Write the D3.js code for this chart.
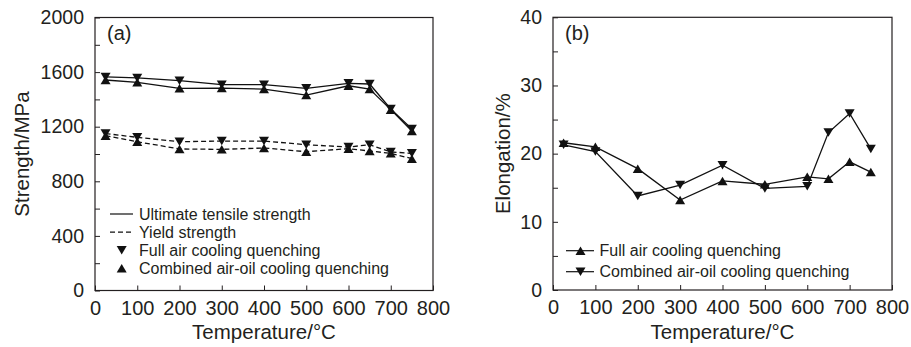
<!DOCTYPE html>
<html><head><meta charset="utf-8">
<script src="https://cdn.jsdelivr.net/npm/d3@7"></script>
<style>
html,body{margin:0;padding:0;background:#fff;}
svg text{font-family:"Liberation Sans",Arial,Helvetica,sans-serif;fill:#231f20;}
</style></head><body>
<svg id="chart" width="911" height="347"></svg>
<script>
const temps = [25, 100, 200, 300, 400, 500, 600, 650, 700, 750];
const utsFullAir = [1565, 1557, 1537, 1508, 1508, 1481, 1518, 1513, 1330, 1183];
const utsCombined = [1542, 1525, 1481, 1483, 1476, 1432, 1500, 1476, 1325, 1168];
const ysFullAir = [1150, 1122, 1090, 1095, 1095, 1068, 1051, 1068, 1015, 1005];
const ysCombined = [1134, 1090, 1037, 1034, 1044, 1017, 1039, 1022, 1005, 966];
const elongFullAir = [21.6, 21.0, 17.8, 13.2, 16.0, 15.5, 16.6, 16.3, 18.8, 17.3];
const elongCombined = [21.3, 20.3, 13.8, 15.4, 18.3, 14.9, 15.2, 23.1, 25.9, 20.7];
const xTicks = [0, 100, 200, 300, 400, 500, 600, 700, 800];
const strengthTicks = [0, 400, 800, 1200, 1600, 2000];
const elongTicks = [0, 10, 20, 30, 40];

const svg = d3.select("#chart");
const ink = "#231f20";
const lineCol = "#111";

function triPath(cx, cy, down) {
  const h = 8.5, w = 5;
  if (down) return `M${cx - w},${cy - h/2}L${cx + w},${cy - h/2}L${cx},${cy + h/2}Z`;
  return `M${cx - w},${cy + h/2}L${cx + w},${cy + h/2}L${cx},${cy - h/2}Z`;
}

function panel(opt) {
  const g = svg.append("g");
  const x = d3.scaleLinear().domain([0, 800]).range([opt.left, opt.right]);
  const y = d3.scaleLinear().domain(opt.yDomain).range([opt.bottom, opt.top]);
  g.append("rect").attr("x", opt.left).attr("y", opt.top)
    .attr("width", opt.right - opt.left).attr("height", opt.bottom - opt.top)
    .attr("fill", "none").attr("stroke", ink).attr("stroke-width", 1.2);
  const xa = g.append("g").attr("transform", `translate(0,${opt.bottom})`)
    .call(d3.axisBottom(x).tickValues(xTicks).tickSizeInner(-5).tickSizeOuter(0).tickFormat(d3.format("d")));
  xa.select(".domain").remove();
  xa.selectAll("line").attr("stroke", ink);
  xa.selectAll("text").attr("y", 24).attr("dy", null).attr("font-size", 20).attr("fill", ink);
  const ya = g.append("g").attr("transform", `translate(${opt.left},0)`)
    .call(d3.axisLeft(y).tickValues(opt.yMinor).tickSizeInner(-5).tickSizeOuter(0).tickFormat(""));
  ya.select(".domain").remove();
  ya.selectAll("line").attr("stroke", ink);
  const yl = g.append("g").attr("transform", `translate(${opt.left},0)`)
    .call(d3.axisLeft(y).tickValues(opt.yTicks).tickSize(0).tickPadding(11).tickFormat(d3.format("d")));
  yl.select(".domain").remove();
  yl.selectAll("text").attr("font-size", 19.5).attr("fill", ink);
  g.append("text").attr("x", (opt.left + opt.right) / 2).attr("y", 339)
    .attr("text-anchor", "middle").attr("font-size", 20.5).text("Temperature/\u00B0C");
  g.append("text").attr("transform", `translate(${opt.yTitleX},${(opt.top + opt.bottom) / 2}) rotate(-90)`)
    .attr("text-anchor", "middle").attr("dominant-baseline", "central").attr("font-size", 20.5).text(opt.yTitle);
  g.append("text").attr("x", opt.left + 12).attr("y", 39.5).attr("font-size", 20).text(opt.label);
  return { g, x, y };
}

function drawSeries(p, vals, dashed, down) {
  const line = d3.line().x((d, i) => p.x(temps[i])).y(d => p.y(d));
  p.g.append("path").datum(vals).attr("d", line).attr("fill", "none")
    .attr("stroke", lineCol).attr("stroke-width", 1.3)
    .attr("stroke-dasharray", dashed ? "5,3" : null);
  p.g.selectAll(null).data(vals).enter().append("path")
    .attr("d", (d, i) => triPath(p.x(temps[i]), p.y(d), down))
    .attr("fill", lineCol);
}

const pa = panel({ left: 95, right: 433, top: 17.5, bottom: 290.5, yDomain: [0, 2000],
  yTicks: strengthTicks, yMinor: d3.range(0, 2001, 200), yTitle: "Strength/MPa", yTitleX: 21, label: "(a)" });
drawSeries(pa, utsFullAir, false, true);
drawSeries(pa, utsCombined, false, false);
drawSeries(pa, ysFullAir, true, true);
drawSeries(pa, ysCombined, true, false);

const la = pa.g.append("g");
const legA = [
  { t: "Ultimate tensile strength", type: "solid" },
  { t: "Yield strength", type: "dash" },
  { t: "Full air cooling quenching", type: "down" },
  { t: "Combined air-oil cooling quenching", type: "up" }
];
legA.forEach((d, i) => {
  const cy = 214 + i * 18.1;
  if (d.type === "solid" || d.type === "dash") {
    la.append("line").attr("x1", 110).attr("x2", 133).attr("y1", cy).attr("y2", cy)
      .attr("stroke", lineCol).attr("stroke-width", 1.2)
      .attr("stroke-dasharray", d.type === "dash" ? "5,3" : null);
  } else {
    la.append("path").attr("d", triPath(121.7, cy, d.type === "down")).attr("fill", lineCol);
  }
  la.append("text").attr("x", 139).attr("y", cy).attr("dominant-baseline", "central")
    .attr("font-size", 16).text(d.t);
});

const pb = panel({ left: 553, right: 892, top: 17.3, bottom: 290, yDomain: [0, 40],
  yTicks: elongTicks, yMinor: d3.range(0, 41, 5), yTitle: "Elongation/%", yTitleX: 502, label: "(b)" });
drawSeries(pb, elongFullAir, false, false);
drawSeries(pb, elongCombined, false, true);

const lb = pb.g.append("g");
[{ t: "Full air cooling quenching", down: false }, { t: "Combined air-oil cooling quenching", down: true }]
  .forEach((d, i) => {
    const cy = 250.7 + i * 21;
    lb.append("line").attr("x1", 566).attr("x2", 594).attr("y1", cy).attr("y2", cy)
      .attr("stroke", lineCol).attr("stroke-width", 1.2);
    lb.append("path").attr("d", triPath(580.5, cy, d.down)).attr("fill", lineCol);
    lb.append("text").attr("x", 599.5).attr("y", cy).attr("dominant-baseline", "central")
      .attr("font-size", 16).text(d.t);
  });
</script>
</body></html>
